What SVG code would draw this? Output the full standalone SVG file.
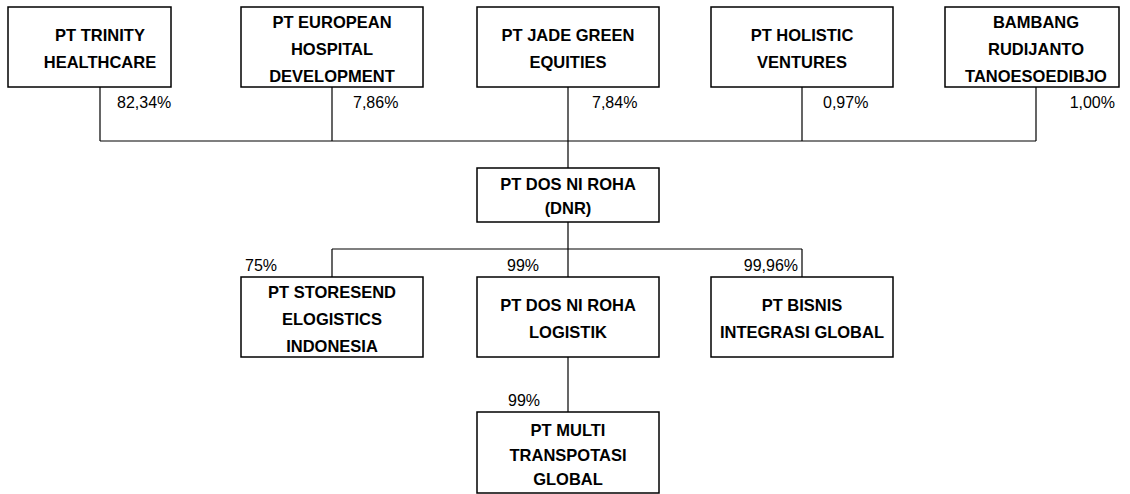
<svg xmlns="http://www.w3.org/2000/svg" width="1130" height="494" viewBox="0 0 1130 494">
<style>
.box{fill:#fff;stroke:#000;stroke-width:1.5}
.t{font-family:"Liberation Sans",Arial,sans-serif;font-weight:bold;font-size:16.5px;fill:#000;text-anchor:middle}
.p{font-family:"Liberation Sans",Arial,sans-serif;font-size:16px;fill:#000}
.c{fill:none;stroke:#000;stroke-width:1.2}
</style>
<rect width="1130" height="494" fill="#fff"/>
<g id="connectors">
<path class="c" d="M100 87V141M332 87V141M568 87V168M802 87V141M1036 87V141M100 141H1036"/>
<path class="c" d="M568 222V249M332 249H802M332 249V277M568 249V277M802 249V277"/>
<path class="c" d="M568 357V412"/>
</g>
<g id="labels">
<text class="p" x="117" y="108">82,34%</text>
<text class="p" x="353" y="108">7,86%</text>
<text class="p" x="592" y="108">7,84%</text>
<text class="p" x="823" y="108">0,97%</text>
<text class="p" x="1115" y="108" text-anchor="end">1,00%</text>
<text class="p" x="245" y="271">75%</text>
<text class="p" x="507" y="271">99%</text>
<text class="p" x="798" y="271" text-anchor="end">99,96%</text>
<text class="p" x="508" y="406">99%</text>
</g>
<g id="n1"><rect class="box" x="8" y="7" width="163" height="80"/><text class="t" x="100" y="41">PT TRINITY</text><text class="t" x="100" y="68">HEALTHCARE</text></g>
<g id="n2"><rect class="box" x="241" y="7" width="182" height="80"/><text class="t" x="332" y="28">PT EUROPEAN</text><text class="t" x="332" y="55">HOSPITAL</text><text class="t" x="332" y="82">DEVELOPMENT</text></g>
<g id="n3"><rect class="box" x="477" y="7" width="182" height="80"/><text class="t" x="568" y="41">PT JADE GREEN</text><text class="t" x="568" y="68">EQUITIES</text></g>
<g id="n4"><rect class="box" x="711" y="7" width="182" height="80"/><text class="t" x="802" y="41">PT HOLISTIC</text><text class="t" x="802" y="68">VENTURES</text></g>
<g id="n5"><rect class="box" x="945" y="7" width="174" height="80"/><text class="t" x="1036" y="28">BAMBANG</text><text class="t" x="1036" y="55">RUDIJANTO</text><text class="t" x="1036" y="82">TANOESOEDIBJO</text></g>
<g id="dnr"><rect class="box" x="477" y="168" width="182" height="54"/><text class="t" x="568" y="190">PT DOS NI ROHA</text><text class="t" x="568" y="214">(DNR)</text></g>
<g id="storesend"><rect class="box" x="241" y="277" width="182" height="80"/><text class="t" x="332" y="298">PT STORESEND</text><text class="t" x="332" y="325">ELOGISTICS</text><text class="t" x="332" y="352">INDONESIA</text></g>
<g id="dnrlog"><rect class="box" x="477" y="277" width="182" height="80"/><text class="t" x="568" y="311">PT DOS NI ROHA</text><text class="t" x="568" y="338">LOGISTIK</text></g>
<g id="bisnis"><rect class="box" x="711" y="277" width="182" height="80"/><text class="t" x="802" y="311">PT BISNIS</text><text class="t" x="802" y="338">INTEGRASI GLOBAL</text></g>
<g id="multi"><rect class="box" x="477" y="412" width="182" height="81"/><text class="t" x="568" y="436">PT MULTI</text><text class="t" x="568" y="461">TRANSPOTASI</text><text class="t" x="568" y="485">GLOBAL</text></g>
</svg>
